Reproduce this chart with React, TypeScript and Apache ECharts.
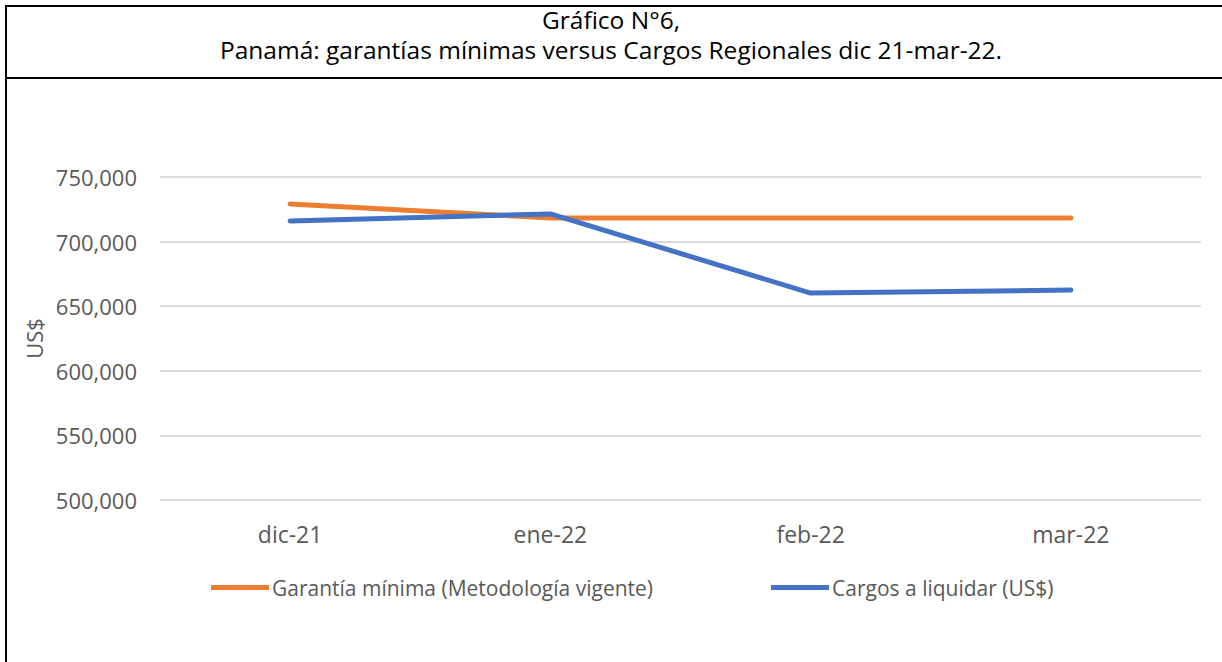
import React, { useEffect, useRef } from "react";
import * as echarts from "echarts";

const categories = ["dic-21", "ene-22", "feb-22", "mar-22"];
const garantiaMinima = [729100, 718300, 718300, 718300];
const cargosLiquidar = [716000, 721400, 660200, 662500];
const seriesNames = ["Garantía mínima (Metodología vigente)", "Cargos a liquidar (US$)"];
const titleLines = ["Gráfico N°6,", "Panamá: garantías mínimas versus Cargos Regionales dic 21-mar-22."];
const yAxisName = "US$";

const FONT = "'Open Sans', 'Noto Sans', sans-serif";

export default function App() {
  const ref = useRef<HTMLDivElement>(null);
  useEffect(() => {
    if (!ref.current) return;
    const chart = echarts.init(ref.current, undefined, { renderer: "svg" });
    const titleStyle = { fontFamily: FONT, fontSize: 24.5, fontWeight: "normal", color: "#000000", lineHeight: 29 };
    chart.setOption({
      animation: false,
      backgroundColor: "#ffffff",
      title: [
        { text: titleLines[0], left: "center", top: 5, padding: 0, textStyle: titleStyle },
        { text: titleLines[1], left: "center", top: 35, padding: 0, textStyle: titleStyle },
      ],
      graphic: [
        { type: "rect", shape: { x: 5, y: 5, width: 2, height: 657 }, style: { fill: "#000" } },
        { type: "rect", shape: { x: 5, y: 5, width: 1217, height: 2 }, style: { fill: "#000" } },
        { type: "rect", shape: { x: 5, y: 77, width: 1217, height: 2 }, style: { fill: "#000" } },
      ],
      legend: {
        top: 572,
        left: 206,
        itemWidth: 58,
        itemHeight: 5,
        itemGap: 118,
        icon: "rect",
        textStyle: { fontFamily: FONT, fontSize: 21, color: "#595959", padding: [0, 0, 0, -2] },
        data: seriesNames,
      },
      grid: { left: 160, right: 21, top: 177, bottom: 162 },
      xAxis: {
        type: "category",
        data: categories,
        boundaryGap: true,
        axisLine: { show: false },
        axisTick: { show: false },
        axisLabel: { fontFamily: FONT, fontSize: 23, color: "#595959", margin: 22 },
      },
      yAxis: {
        type: "value",
        min: 500000,
        max: 750000,
        interval: 50000,
        name: yAxisName,
        nameLocation: "middle",
        nameRotate: 90,
        nameGap: 114,
        nameTextStyle: { fontFamily: FONT, fontSize: 22, color: "#595959" },
        axisLine: { show: false },
        axisTick: { show: false },
        axisLabel: {
          fontFamily: FONT,
          fontSize: 22,
          color: "#595959",
          margin: 23,
          formatter: (v: number) => v.toLocaleString("en-US"),
        },
        splitLine: { lineStyle: { color: "#D9D9D9", width: 2 } },
      },
      series: [
        {
          name: seriesNames[0],
          type: "line",
          data: garantiaMinima,
          symbol: "none",
          lineStyle: { color: "#ED7D31", width: 5, cap: "round" },
          itemStyle: { color: "#ED7D31" },
        },
        {
          name: seriesNames[1],
          type: "line",
          data: cargosLiquidar,
          symbol: "none",
          lineStyle: { color: "#4472C4", width: 5, cap: "round" },
          itemStyle: { color: "#4472C4" },
        },
      ],
    });
    return () => chart.dispose();
  }, []);
  return (
    <div
      ref={ref}
      style={{ position: "absolute", left: 0, top: 0, width: 1222, height: 662 }}
    />
  );
}
